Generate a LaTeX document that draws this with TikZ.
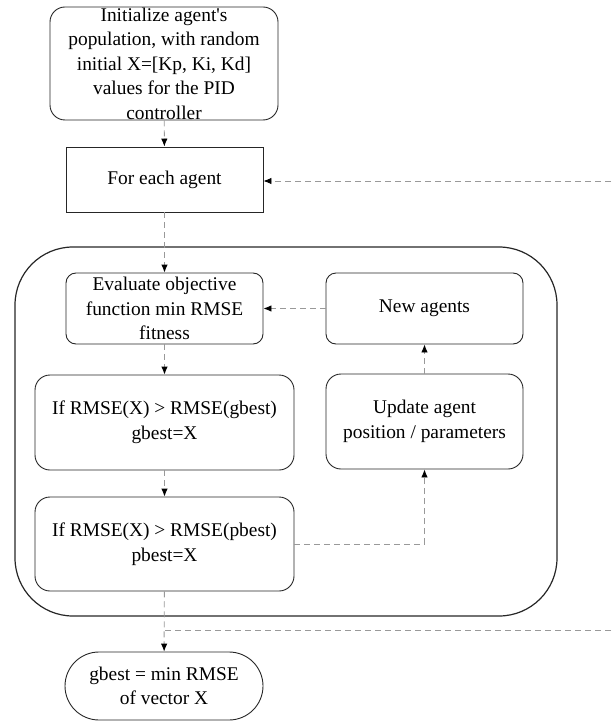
\documentclass[tikz,border=0pt]{standalone}
\usepackage{fontspec}
\setmainfont{Liberation Serif}
\usetikzlibrary{arrows.meta,positioning}
\tikzset{
  box/.style={draw=black!85, line width=0.9pt, align=center, inner sep=0pt,
    font=\fontsize{19.4}{24.5}\selectfont},
  roundbox/.style={box, rounded corners=#1},
  roundbox/.default=12pt,
  link/.style={draw=black!40, line width=0.9pt, dash pattern=on 6pt off 4pt},
  flow/.style={link, -{Latex[black,length=8pt,width=6.5pt]}}
}

\begin{document}
\begin{tikzpicture}[x=1pt,y=-1pt]
      \useasboundingbox (0,0) rectangle (611,722);

      % outer loop container
      \node[roundbox=58pt, line width=1.2pt, minimum width=542pt, minimum height=369pt] (loop) at (286,431.5) {};

      \node[roundbox=15pt, minimum width=228pt, minimum height=113pt] (init) at (164,63.5)
        {Initialize agent\textquotesingle s\\population, with random\\initial X=[Kp, Ki, Kd]\\values for the PID\\controller};
      \node[box, minimum width=197pt, minimum height=65pt] (each) at (164.5,179.5) {For each agent};

      \node[roundbox=10pt, minimum width=197pt, minimum height=71pt] (eval) at (164.5,308.5)
        {Evaluate objective\\function min RMSE\\fitness};
      \node[roundbox=10pt, minimum width=197pt, minimum height=71pt] (newag) at (424.5,308.5) {New agents};
      \node[roundbox=15pt, minimum width=259pt, minimum height=95pt] (gbest) at (164.5,422.5)
        {If RMSE(X) > RMSE(gbest)\\gbest=X};
      \node[roundbox=15pt, minimum width=197pt, minimum height=95pt] (update) at (424.5,421.5)
        {Update agent\\position / parameters};
      \node[roundbox=15pt, minimum width=259pt, minimum height=94pt] (pbest) at (164.5,544)
        {If RMSE(X) > RMSE(pbest)\\pbest=X};

      \node[roundbox=34pt, minimum width=198pt, minimum height=68pt] (result) at (164,686)
        {gbest = min RMSE\\of vector X};

      \coordinate (loopin) at (611,181);
      \coordinate (loopout) at (611,630);

      \draw[flow] (init) -- (each);
      \draw[flow] (each) -- (eval);
      \draw[flow] (eval) -- (gbest);
      \draw[flow] (gbest) -- (pbest);
      \draw[flow] (pbest.east) -| (update.south);
      \draw[flow] (update) -- (newag);
      \draw[flow] (newag) -- (eval);
      \draw[flow] (pbest) -- (result);
      \draw[flow] (loopin) -- (each.east |- loopin);
      \draw[link] (loopout) -- (loopout -| result.north);
    \end{tikzpicture}
\end{document}
